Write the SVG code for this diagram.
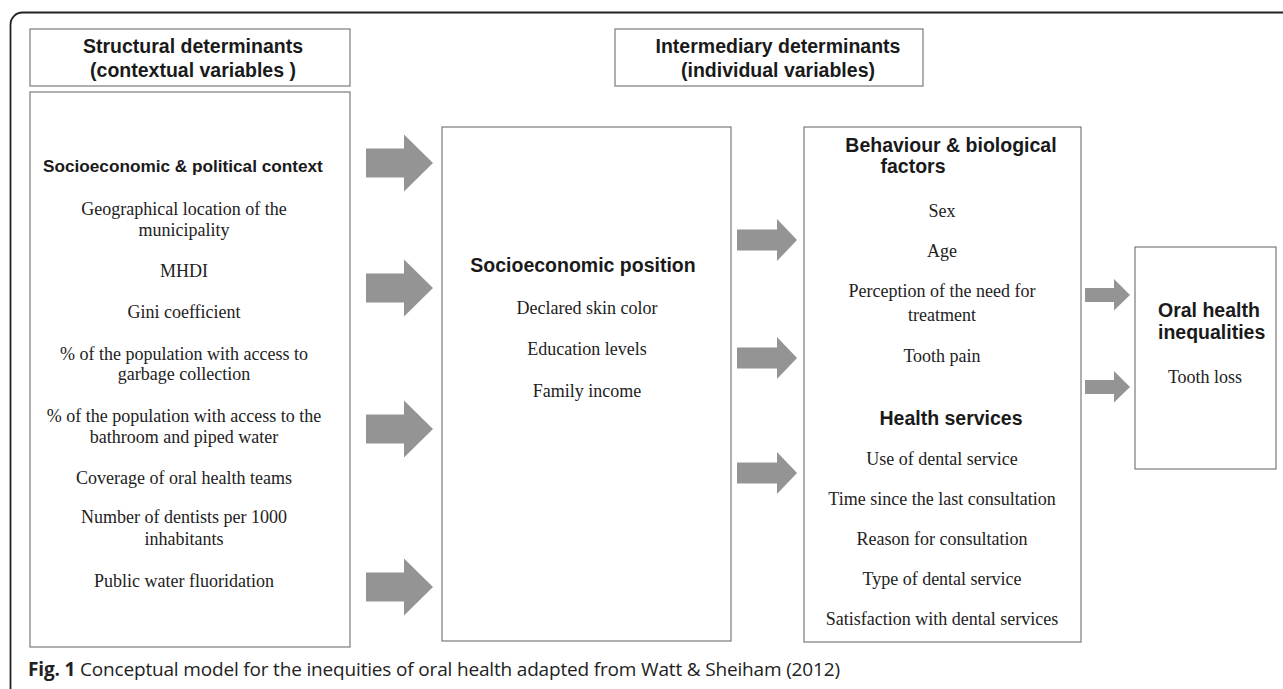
<svg xmlns="http://www.w3.org/2000/svg" xmlns:xlink="http://www.w3.org/1999/xlink" width="1283" height="689" viewBox="0 0 1283 689">
<style>
.box{fill:#fff;stroke:#7a7a7a;stroke-width:1.2}
.arrow{fill:#949494;stroke:none}
.b{font-family:"Liberation Sans",Arial,sans-serif;font-weight:bold;font-size:19.5px;fill:#1a1a1a}
.t{font-family:"Liberation Serif","Times New Roman",serif;font-size:18px;fill:#222}
.c{font-family:"Open Sans","Noto Sans",sans-serif;font-size:19px;fill:#222}
</style>
<defs>
<path id="aL" class="arrow" d="M-67,-14.5 H-29 V-28.5 L0,0 L-29,28.5 V14.5 H-67 Z"/>
<path id="aM" class="arrow" d="M-60,-10.5 H-20 V-21 L0,0 L-20,21 V10.5 H-60 Z"/>
<path id="aS" class="arrow" d="M-45,-7 H-16 V-16 L0,0 L-16,15.5 V7 H-45 Z"/>
</defs>
<rect width="1283" height="689" fill="#fff"/>
<path d="M10.5,689 V24.5 A12,12 0 0 1 22.5,12.5 H1283" fill="none" stroke="#222" stroke-width="1.8"/>

<g id="structural-header">
<rect class="box" x="30" y="29" width="320" height="57"/>
<text class="b" x="193" y="53" text-anchor="middle">Structural determinants</text>
<text class="b" x="193" y="77" text-anchor="middle">(contextual variables )</text>
</g>

<g id="intermediary-header">
<rect class="box" x="615" y="29" width="308" height="57"/>
<text class="b" x="778" y="53" text-anchor="middle">Intermediary determinants</text>
<text class="b" x="778" y="77" text-anchor="middle">(individual variables)</text>
</g>

<g id="structural">
<rect class="box" x="30" y="92" width="320" height="555"/>
<text class="b" x="43" y="172" style="font-size:17.2px">Socioeconomic &amp; political context</text>
<g class="t" text-anchor="middle">
<text x="184" y="215">Geographical location of the</text>
<text x="184" y="236">municipality</text>
<text x="184" y="277">MHDI</text>
<text x="184" y="318">Gini coefficient</text>
<text x="184" y="360">% of the population with access to</text>
<text x="184" y="380">garbage collection</text>
<text x="184" y="422">% of the population with access to the</text>
<text x="184" y="443">bathroom and piped water</text>
<text x="184" y="484">Coverage of oral health teams</text>
<text x="184" y="523">Number of dentists per 1000</text>
<text x="184" y="545">inhabitants</text>
<text x="184" y="587">Public water fluoridation</text>
</g>
</g>

<g id="socioeconomic-position">
<rect class="box" x="442" y="127" width="289" height="514"/>
<text class="b" x="583" y="272" text-anchor="middle">Socioeconomic  position</text>
<g class="t" text-anchor="middle">
<text x="587" y="314">Declared skin color</text>
<text x="587" y="355">Education levels</text>
<text x="587" y="397">Family income</text>
</g>
</g>

<g id="behaviour">
<rect class="box" x="804" y="127" width="277" height="515"/>
<text class="b" x="951" y="152" text-anchor="middle">Behaviour &amp; biological</text>
<text class="b" x="913" y="173" text-anchor="middle">factors</text>
<g class="t" text-anchor="middle">
<text x="942" y="217">Sex</text>
<text x="942" y="257">Age</text>
<text x="942" y="297">Perception of the need for</text>
<text x="942" y="321">treatment</text>
<text x="942" y="362">Tooth pain</text>
</g>
<text class="b" x="951" y="425" text-anchor="middle">Health services</text>
<g class="t" text-anchor="middle">
<text x="942" y="465">Use of dental service</text>
<text x="942" y="505">Time since the last consultation</text>
<text x="942" y="545">Reason for consultation</text>
<text x="942" y="585">Type of dental service</text>
<text x="942" y="625">Satisfaction with dental services</text>
</g>
</g>

<g id="oral-health">
<rect class="box" x="1135" y="247" width="141" height="222"/>
<text class="b" x="1158" y="317">Oral health</text>
<text class="b" x="1158" y="339">inequalities</text>
<text class="t" x="1205" y="383" text-anchor="middle">Tooth loss</text>
</g>

<g id="connectors">
<use xlink:href="#aL" x="433" y="163"/>
<use xlink:href="#aL" x="433" y="288"/>
<use xlink:href="#aL" x="433" y="429"/>
<use xlink:href="#aL" x="433" y="587"/>
<use xlink:href="#aM" x="797" y="240"/>
<use xlink:href="#aM" x="797" y="358"/>
<use xlink:href="#aM" x="797" y="473"/>
<use xlink:href="#aS" x="1130" y="295"/>
<use xlink:href="#aS" x="1130" y="387"/>
</g>

<text class="c" x="28" y="676" textLength="812" lengthAdjust="spacing"><tspan font-weight="bold">Fig. 1</tspan> Conceptual model for the inequities of oral health adapted from Watt &amp; Sheiham (2012)</text>
</svg>
